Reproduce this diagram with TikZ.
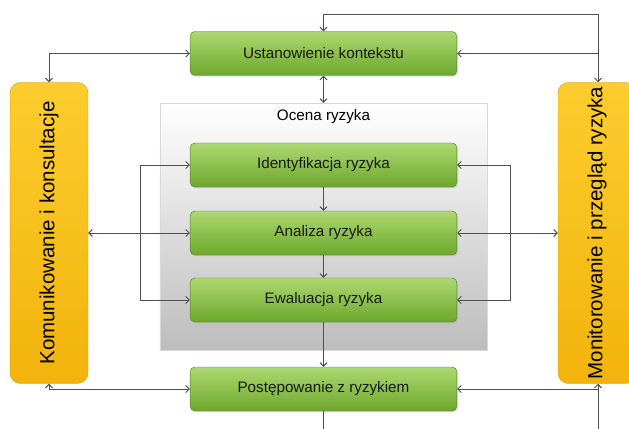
\documentclass[tikz,border=0pt]{standalone}
\usepackage{fontspec}
\setmainfont{Liberation Sans}
\usepackage{tikz}
\usetikzlibrary{arrows.meta,shadows}

\definecolor{greenTop}{HTML}{ADD870}
\definecolor{greenBot}{HTML}{6CA82C}
\definecolor{goldTop}{HTML}{FCCD2E}
\definecolor{goldBot}{HTML}{F2B30C}
\definecolor{lineGrey}{HTML}{505050}

\tikzset{
  stepbox/.style={draw=greenBot!80!black, line width=0.4pt, rounded corners=4pt,
    top color=greenTop, bottom color=greenBot,
    minimum width=8.0cm, minimum height=1.32cm,
    font=\fontsize{13}{15}\selectfont, text=black!90,
    drop shadow={opacity=0.25, shadow xshift=1pt, shadow yshift=-1pt}},
  sidebox/.style={draw=goldBot!90!black, line width=0.4pt, rounded corners=9pt,
    top color=goldTop, bottom color=goldBot,
    minimum width=2.34cm, minimum height=9.03cm, inner sep=0pt,
    font=\fontsize{17.5}{20}\selectfont},
  flow/.style={draw=lineGrey, line width=0.8pt, >={Straight Barb[length=3pt,width=6pt]}},
}

\begin{document}
\begin{tikzpicture}[x=0.03cm, y=-0.03cm]
    %%%%% START %%%%%
    \useasboundingbox (0,0) rectangle (629,428);
    \clip (0,0) rectangle (629,428);

    % assessment frame
    \node[draw=black!15, top color=white, bottom color=black!26,
      minimum width=9.81cm, minimum height=7.41cm] (ocena) at (323.5,226.5) {};
    \node[font=\fontsize{13}{15}\selectfont] (ocenaTitle) at (323.5,117) {Ocena ryzyka};

    % process steps
    \node[stepbox] (ust) at (323.5,53.5) {Ustanowienie kontekstu};
    \node[stepbox] (ide) at (323.5,165) {Identyfikacja ryzyka};
    \node[stepbox] (ana) at (323.5,233) {Analiza ryzyka};
    \node[stepbox] (ewa) at (323.5,300) {Ewaluacja ryzyka};
    \node[stepbox] (pos) at (323.5,389) {Postępowanie z ryzykiem};

    % side columns
    \node[sidebox] (kom) at (49,233) {\rotatebox{90}{Komunikowanie i konsultacje}};
    \node[sidebox] (mon) at (597,233) {\rotatebox{90}{Monitorowanie i przegląd ryzyka}};

    % helper points
    \coordinate (topR) at (598,14);
    \coordinate (botR) at (598,440);
    \coordinate (lLoop) at (140,0);
    \coordinate (rLoop) at (510,0);

    % top loop
    \draw[flow,->] (topR) -| (ust.north);
    \draw[flow,->] (topR) -- (topR |- mon.north);
    \draw[flow,->] (topR |- ust.east) -- (ust.east);
    \draw[flow,<->] (kom.north) |- (ust.west);
    \draw[flow,<->] (ust.south) -- (ocena.north);

    % main chain
    \draw[flow,->] (ide) -- (ana);
    \draw[flow,->] (ana) -- (ewa);
    \draw[flow,->] (ewa) -- (pos);

    % inner loops
    \draw[flow,<->] (ide.west) -- (ide.west -| lLoop) -- (ewa.west -| lLoop) -- (ewa.west);
    \draw[flow,<->] (ide.east) -- (ide.east -| rLoop) -- (ewa.east -| rLoop) -- (ewa.east);
    \draw[flow,<->] (kom) -- (ana);
    \draw[flow,<->] (mon) -- (ana);

    % bottom loop
    \draw[flow,<->] (kom.south) |- (pos.west);
    \draw[flow,->] (botR) -- (botR |- mon.south);
    \draw[flow,->] (botR |- pos.east) -- (pos.east);
    \draw[flow] (pos.south) -- (pos.south |- botR);

    %%%%% END %%%%%
\end{tikzpicture}
\end{document}
